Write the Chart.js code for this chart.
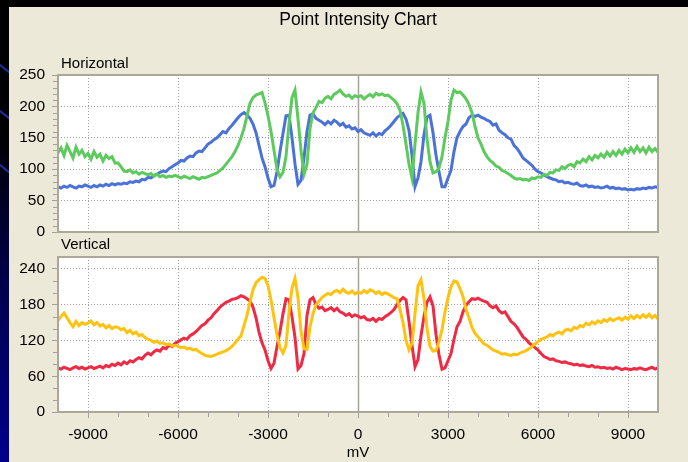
<!DOCTYPE html>
<html>
<head>
<meta charset="utf-8">
<script src="https://cdn.jsdelivr.net/npm/chart.js@4.4.1/dist/chart.umd.min.js"></script>
<style>
  html, body { margin: 0; padding: 0; width: 688px; height: 462px; overflow: hidden; background: #000; }
  #strip { position: absolute; left: 0; top: 0; width: 9px; height: 462px; overflow: hidden;
    background: linear-gradient(to bottom, #000 0%, #000 28%, #00004a 60%, #00008c 100%); }
  .streak { position: absolute; left: -4px; width: 18px; height: 2px; background: #1b2f9e; transform: rotate(38deg); }
  #panel { position: absolute; left: 9px; top: 7px; width: 679px; height: 455px; background: #ece9d8; }
  canvas { position: absolute; left: 0; top: 0; }
</style>
</head>
<body>
<div id="strip">
  <div class="streak" style="top:68px"></div>
  <div class="streak" style="top:114px"></div>
  <div class="streak" style="top:168px"></div>
</div>
<div id="panel"></div>
<canvas id="horiz" width="688" height="462"></canvas>
<canvas id="vert" width="688" height="462"></canvas>
<script>
// sample positions, mV (every 100 mV from -10000 to 10000)
const mV = Array.from({ length: 201 }, (_, i) => -10000 + i * 100);

const xTicks = [-9000, -6000, -3000, 0, 3000, 6000, 9000];
const horizTicks = [0, 50, 100, 150, 200, 250];
const vertTicks = [0, 60, 120, 180, 240];

// Horizontal panel
const horizBlue = [
  72, 70, 73, 71, 74, 72, 70, 73, 72, 75,
  73, 71, 74, 72, 75, 73, 76, 74, 77, 75,
  77, 76, 78, 77, 80, 79, 81, 80, 84, 83,
  87, 86, 90, 92, 95, 97, 96, 101, 104, 107,
  110, 114, 113, 118, 121, 120, 126, 129, 128, 134,
  140, 143, 147, 150, 155, 160, 158, 165, 170, 176,
  182, 187, 190, 186, 181, 172, 158, 138, 118, 104,
  86, 72, 74, 96, 128, 157, 185, 186, 150, 108,
  76, 82, 118, 160, 186, 188, 181, 178, 175, 171,
  176, 172, 178, 175, 170, 173, 167, 169, 164, 166,
  160, 163, 158, 156, 154, 158, 153, 157, 155, 161,
  165, 170, 176, 182, 186, 189, 180, 162, 122, 72,
  86, 112, 155, 183, 186, 158, 122, 96, 72, 72,
  86, 98, 128, 150, 160, 168, 172, 182, 186, 184,
  186, 183, 181, 178, 176, 170, 172, 162, 158, 155,
  150, 148, 138, 133, 126, 118, 114, 110, 106, 100,
  96, 94, 91, 88, 86, 84, 83, 80, 81, 78,
  79, 77, 76, 78, 74, 73, 75, 72, 73, 71,
  72, 70, 71, 73, 70, 71, 69, 70, 68, 69,
  67, 68, 67, 69, 68, 70, 69, 71, 70, 72,
  71
];
const horizGreen = [
  126, 134, 122, 138, 128, 118, 135, 124, 130, 120,
  125, 116, 128, 119, 124, 113, 122, 117, 120, 110,
  110, 104, 97, 96, 99, 94, 96, 92, 95, 93,
  91, 93, 89, 92, 88, 90, 87, 89, 88, 90,
  88, 86, 89, 87, 85, 88, 86, 84, 87, 86,
  88, 90, 92, 94, 98, 102, 108, 114, 120, 128,
  138, 150, 165, 185, 205, 214, 218, 220, 222, 206,
  185, 160, 130, 100, 88, 95, 120, 172, 214, 226,
  180, 130, 92, 108, 165, 190, 198, 208, 206, 213,
  216, 212, 219, 222, 226, 220, 216, 218, 213, 217,
  215, 217, 212, 216, 219, 215, 221, 218, 220, 217,
  218, 214, 210, 204, 194, 170, 140, 108, 86, 140,
  190, 223, 205, 148, 112, 94, 96, 102, 120, 150,
  176, 210, 226, 222, 223, 218, 212, 203, 190, 168,
  150, 140, 128, 120, 114, 110, 105, 103, 98, 96,
  93, 90, 86, 84, 85, 83, 84, 82, 86, 85,
  88, 87, 92, 90, 95, 94, 99, 98, 104, 101,
  106, 108, 104, 112, 110, 116, 112, 120, 115, 122,
  118, 124, 119, 127, 121, 128, 122, 130, 124, 132,
  126, 134, 127, 136, 128, 134, 126, 135, 128, 133,
  127
];

// Vertical panel
const vertRed = [
  74, 72, 75, 73, 71, 74, 76, 73, 75, 72,
  74, 76, 73, 75, 77, 74, 78, 76, 80, 78,
  82, 79, 84, 81, 86, 84, 88, 91, 89, 95,
  99, 96, 101, 104, 102, 108, 106, 112, 110, 115,
  118, 121, 124, 122, 128, 131, 135, 140, 145, 148,
  154, 158, 165, 170, 176, 180, 184, 186, 189, 190,
  192, 195, 193, 190, 186, 176, 158, 134, 116, 104,
  86, 73, 82, 110, 135, 165, 190, 188, 160, 125,
  72, 78, 98, 162, 188, 192, 180, 174, 176, 170,
  172, 175, 170, 174, 168, 166, 162, 165, 160, 163,
  161, 158, 160, 155, 154, 157, 152, 157, 155, 160,
  163, 167, 172, 180, 187, 192, 188, 152, 112, 76,
  88, 128, 160, 184, 193, 178, 130, 96, 72, 74,
  86, 98, 122, 143, 152, 168, 179, 185, 190, 189,
  191, 188, 186, 184, 178, 175, 178, 170, 166, 168,
  160, 152, 148, 142, 134, 126, 122, 116, 112, 108,
  104, 98, 93, 91, 88, 89, 86, 85, 83, 84,
  82, 81, 79, 80, 78, 79, 77, 76, 78, 75,
  76, 74, 75, 73, 74, 72, 75, 73, 71, 73,
  72, 71, 73, 72, 74, 72, 71, 73, 75, 72,
  74
];
const vertYellow = [
  154, 160, 166, 158, 150, 143, 152, 145, 150, 147,
  149, 153, 146, 150, 144, 147, 141, 145, 140, 143,
  142, 138, 140, 133, 137, 131, 134, 128, 130, 125,
  122, 120, 117, 119, 115, 116, 113, 114, 111, 112,
  110, 108, 109, 106, 107, 104, 105, 101, 98, 95,
  94, 93, 95, 97, 99, 101, 103, 106, 110, 116,
  122, 128, 145, 162, 185, 205, 217, 222, 226, 224,
  212, 188, 158, 130, 108, 99, 112, 168, 208, 224,
  192, 135, 106, 105, 143, 165, 180, 186, 192, 196,
  199, 197, 202, 204, 200, 206, 201, 199, 203, 198,
  201, 199, 204, 200, 205, 203, 199, 202, 197, 200,
  198, 195, 192, 190, 172, 150, 120, 104, 115, 165,
  212, 222, 190, 140, 110, 102, 103, 118, 138, 168,
  192, 210, 220, 218, 207, 194, 172, 158, 142, 132,
  126, 120, 114, 112, 108, 104, 102, 100, 97, 98,
  96, 95, 97, 96, 99, 101, 103, 106, 110, 114,
  118, 122, 124, 126, 130, 128, 132, 134, 131, 137,
  139, 136, 142, 140, 145, 143, 149, 146, 151, 148,
  153, 150, 155, 152, 157, 153, 156, 158, 154, 159,
  156, 161, 157, 162, 158, 163, 159, 164, 158, 162,
  156
];

const FONT = '"Liberation Sans", Arial, sans-serif';
const GRID = '#a0a0a0';

function minorTicks(max, step, major) {
  const out = [];
  for (let v = step; v < max; v += step) if (v % major !== 0) out.push(v);
  return out;
}

// frame, zero line, minor ticks and free text
function makeDeco(cfg) {
  return {
    id: 'deco',
    beforeDraw(chart) {
      const { ctx, chartArea: a } = chart;
      ctx.save();
      ctx.fillStyle = '#fff';
      ctx.fillRect(a.left, a.top, a.right - a.left, a.bottom - a.top);
      ctx.restore();
    },
    beforeDatasetsDraw(chart) {
      const { ctx, chartArea: a, scales: { x } } = chart;
      const px = Math.round(x.getPixelForValue(0)) + 0.5;
      ctx.save();
      ctx.strokeStyle = '#a6a39a';
      ctx.lineWidth = 1.5;
      ctx.beginPath();
      ctx.moveTo(px, a.top);
      ctx.lineTo(px, a.bottom);
      ctx.stroke();
      ctx.restore();
    },
    afterDraw(chart) {
      const { ctx, chartArea: a, scales: { x, y } } = chart;
      ctx.save();
      ctx.strokeStyle = '#aca899';
      ctx.lineWidth = 2;
      ctx.strokeRect(a.left, a.top, a.right - a.left, a.bottom - a.top);

      ctx.strokeStyle = GRID;
      ctx.lineWidth = 1;
      ctx.beginPath();
      cfg.yMinor.forEach(v => {
        const py = Math.round(y.getPixelForValue(v)) + 0.5;
        ctx.moveTo(a.left - 5, py);
        ctx.lineTo(a.left - 1, py);
      });
      (cfg.xMinor || []).forEach(v => {
        const p = Math.round(x.getPixelForValue(v)) + 0.5;
        ctx.moveTo(p, a.bottom + 1);
        ctx.lineTo(p, a.bottom + 5);
      });
      ctx.stroke();

      ctx.fillStyle = '#000';
      ctx.textBaseline = 'alphabetic';
      cfg.texts.forEach(t => {
        ctx.font = t.size + 'px ' + FONT;
        ctx.textAlign = t.align;
        ctx.fillText(t.text, t.x, t.y);
      });
      ctx.restore();
    }
  };
}

function makePanel(id, cfg) {
  return new Chart(document.getElementById(id), {
    type: 'line',
    data: {
      datasets: cfg.series.map(s => ({
        data: mV.map((v, i) => ({ x: v, y: s.values[i] })),
        borderColor: s.color,
        borderWidth: 3,
        pointRadius: 0,
        tension: 0,
        fill: false
      }))
    },
    options: {
      responsive: false,
      animation: false,
      devicePixelRatio: 1,
      layout: { padding: cfg.padding },
      plugins: { legend: { display: false }, tooltip: { enabled: false } },
      scales: {
        x: {
          type: 'linear',
          min: -10000,
          max: 10000,
          afterBuildTicks: s => { s.ticks = xTicks.map(v => ({ value: v })); },
          afterFit: s => { s.height = cfg.xHeight; },
          ticks: {
            display: cfg.showX,
            autoSkip: false,
            maxRotation: 0,
            padding: 7,
            color: '#000',
            font: { family: FONT, size: 15.5 },
            callback: v => String(v)
          },
          grid: { color: GRID, lineWidth: 1, drawTicks: cfg.showX, tickLength: 6, tickColor: GRID },
          border: { display: false, dash: [1, 2] }
        },
        y: {
          min: 0,
          max: cfg.yMax,
          afterBuildTicks: s => { s.ticks = cfg.yTicks.map(v => ({ value: v })); },
          afterFit: s => { s.width = 58; },
          ticks: {
            padding: 7,
            color: '#000',
            font: { family: FONT, size: 15.5 },
            callback: v => String(v)
          },
          grid: { color: GRID, lineWidth: 1, drawTicks: true, tickLength: 6, tickColor: GRID },
          border: { display: false, dash: [1, 2] }
        }
      }
    },
    plugins: [makeDeco(cfg)]
  });
}

makePanel('horiz', {
  series: [
    { values: horizGreen, color: '#5dca5d' },
    { values: horizBlue, color: '#4b72d9' }
  ],
  padding: { top: 75, bottom: 230, left: 0, right: 30 },
  xHeight: 0,
  showX: false,
  yMax: 250,
  yTicks: horizTicks,
  yMinor: minorTicks(250, 10, 50),
  texts: [
    { text: 'Point Intensity Chart', x: 358, y: 25, size: 17.5, align: 'center' },
    { text: 'Horizontal', x: 61, y: 68, size: 15, align: 'left' }
  ]
});

makePanel('vert', {
  series: [
    { values: vertYellow, color: '#ffc20e' },
    { values: vertRed, color: '#ee2a44' }
  ],
  padding: { top: 257, bottom: 0, left: 0, right: 30 },
  xHeight: 50,
  showX: true,
  yMax: 260,
  yTicks: vertTicks,
  yMinor: minorTicks(260, 20, 60),
  xMinor: minorTicks(10000, 1000, 3000).concat(minorTicks(10000, 1000, 3000).map(v => -v)),
  texts: [
    { text: 'Vertical', x: 61, y: 248.5, size: 15, align: 'left' },
    { text: 'mV', x: 358, y: 456.5, size: 15, align: 'center' }
  ]
});
</script>
</body>
</html>
